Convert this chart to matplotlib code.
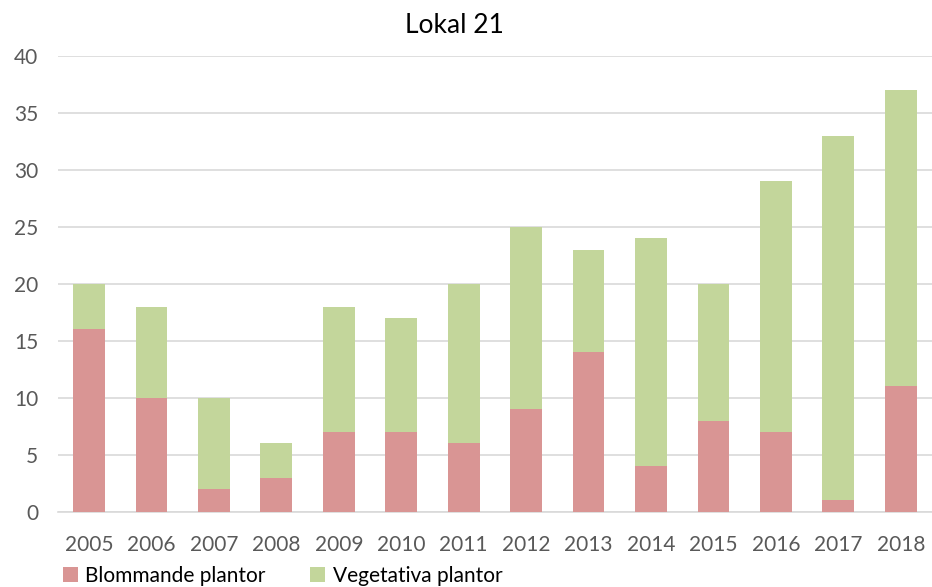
import matplotlib.pyplot as plt
import numpy as np

plt.rcParams['font.family'] = ['Lato', 'DejaVu Sans']

# Data
years = ['2005', '2006', '2007', '2008', '2009', '2010', '2011',
         '2012', '2013', '2014', '2015', '2016', '2017', '2018']
blommande = [16, 10, 2, 3, 7, 7, 6, 9, 14, 4, 8, 7, 1, 11]
vegetativa = [4, 8, 8, 3, 11, 10, 14, 16, 9, 20, 12, 22, 32, 26]

red = '#D99594'
green = '#C3D69B'

fig = plt.figure(figsize=(9.32, 5.87), dpi=100)
ax = fig.add_axes([0.062, 0.128, 0.938, 0.777])

x = np.arange(len(years))
ax.bar(x, blommande, width=0.51, color=red, label='Blommande plantor', zorder=3)
ax.bar(x, vegetativa, width=0.51, bottom=blommande, color=green,
       label='Vegetativa plantor', zorder=3)

ax.set_xlim(-0.5, len(years) - 0.5)
ax.set_ylim(0, 40)
ax.set_yticks(range(0, 41, 5))
ax.set_xticks(x)
ax.set_xticklabels(years)
ax.yaxis.grid(True, color='#D9D9D9', linewidth=1.2, zorder=0)
for s in ['top', 'right', 'left']:
    ax.spines[s].set_visible(False)
ax.spines['bottom'].set_color('#D9D9D9')
ax.spines['bottom'].set_linewidth(1.2)
ax.tick_params(axis='both', length=0, labelsize=15, colors='#595959')
ax.tick_params(axis='x', pad=17)
ax.tick_params(axis='y', pad=14)

fig.text(0.488, 0.957, 'Lokal 21', fontsize=19, ha='center', va='center')

fig.legend(loc='lower left', bbox_to_anchor=(0.047, -0.03), ncol=2, frameon=False,
           fontsize=15, handlelength=0.75, handleheight=0.75, handletextpad=0.35,
           columnspacing=2.1)

plt.savefig('out.png')
